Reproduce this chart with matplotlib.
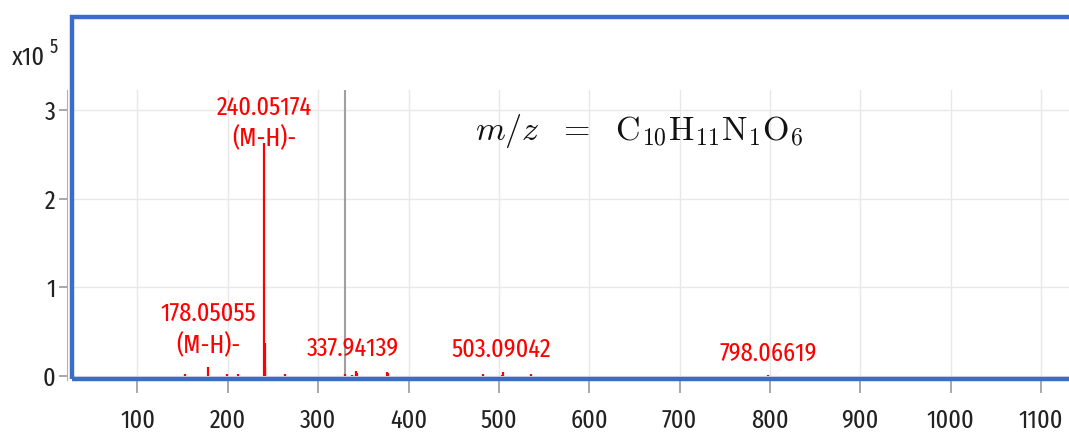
import matplotlib.pyplot as plt
from matplotlib import font_manager
from matplotlib.patches import Rectangle

# Peak list (m/z, intensity in units of 1e5 counts)
peak_mz = [153.0, 178.05055, 199.0, 211.0, 240.05174, 240.6, 241.3, 263.0,
           330.0, 337.94139, 342.0, 343.5, 376.0, 377.5, 482.0, 503.09042,
           505.0, 536.0, 798.06619]
peak_int = [0.02, 0.10, 0.02, 0.02, 2.63, 0.37, 0.10, 0.02,
            0.02, 0.01, 0.05, 0.03, 0.04, 0.03, 0.02, 0.01,
            0.04, 0.02, 0.005]

# Annotated peaks
label_mz = [240.05174, 178.05055, 337.94139, 503.09042, 798.06619]
label_text = ['240.05174\n(M-H)-', '178.05055\n(M-H)-', '337.94139',
              '503.09042', '798.06619']
label_y = [2.53, 0.20, 0.16, 0.15, 0.11]

cursor_mz = 329.7
x_ticks = [100, 200, 300, 400, 500, 600, 700, 800, 900, 1000, 1100]
y_ticks = [0, 1, 2, 3]

# pick the narrowest regular sans face on the system
rank = {'ultra-condensed': 0, 'extra-condensed': 1, 'condensed': 2, 'semi-condensed': 3}
skip = ('bold', 'italic', 'oblique', 'light', 'medium', 'black', 'thin', 'mono', 'serif')
best, best_rank = None, 99
for f in font_manager.fontManager.ttflist:
    tag = (f.name + ' ' + f.fname).lower().replace('sans-serif', '')
    if any(s in tag for s in skip):
        continue
    r = rank.get(f.stretch, 99)
    if 'extracondensed' in tag.replace(' ', '').replace('-', ''):
        r = min(r, 1)
    elif 'narrow' in tag or 'condensed' in tag:
        r = min(r, 2)
    if r < best_rank:
        best, best_rank = f, r

if best is not None:
    narrow = font_manager.FontProperties(fname=best.fname)
else:
    narrow = font_manager.FontProperties(family='Liberation Sans')
condensed_level = best_rank


def nfont(size):
    fp = narrow.copy()
    fp.set_size(size)
    return fp


lab_size = 19 if condensed_level <= 1 else 16

W, H = 1069, 434
fig = plt.figure(figsize=(W / 100, H / 100), dpi=100)
ax = fig.add_axes([71 / W, (H - 380) / H, 1 - 71 / W, (380 - 90) / H])

ax.set_xlim(26.4, 1131)
ax.set_ylim(-0.049, 3.228)

# spectrum
ax.vlines(peak_mz, 0, peak_int, color='#ff0000', lw=1.6, zorder=3)
ax.vlines(cursor_mz, 0, 3.228, color='#a0a0a0', lw=1.5, zorder=2)

for mz, txt, y in zip(label_mz, label_text, label_y):
    ax.text(mz, y, txt, color='#ff0000', ha='center', va='bottom',
            fontproperties=nfont(lab_size), linespacing=1.3, zorder=4)

ax.text(0.405, 0.86, r'$m/z\ \ =\ \ \mathrm{C_{10}H_{11}N_1O_6}$', transform=ax.transAxes,
        fontsize=24.5, math_fontfamily='cm', ha='left', va='center', color='#111111')

ax.set_xticks(x_ticks)
ax.set_yticks(y_ticks)
ax.grid(True, color='#e8e8e8', lw=1)
ax.set_axisbelow(True)
for s in ['top', 'right', 'bottom']:
    ax.spines[s].set_visible(False)
ax.spines['left'].set_position(('outward', 3))
ax.spines['left'].set_color('#b0b0b0')
ax.tick_params(axis='x', length=9, width=1.2, color='#999999', pad=11,
               labelcolor='#222222')
ax.tick_params(axis='y', length=6, width=1.2, color='#999999', pad=2,
               labelcolor='#222222')
for lab in ax.get_xticklabels() + ax.get_yticklabels():
    lab.set_fontproperties(nfont(lab_size))

# scale factor at the top of the y axis
fig.text(12 / W, 1 - 58 / H, 'x10', fontproperties=nfont(lab_size), color='#222222',
         ha='left', va='center')
fig.text(50 / W, 1 - 47 / H, '5', fontproperties=nfont(14), color='#222222',
         ha='left', va='center')

# blue panel frame
frame = Rectangle((72 / W, (H - 379) / H), 1.05, (379 - 17) / H,
                  transform=fig.transFigure, fill=False, ec='#3a6cc8', lw=3.2,
                  zorder=10, clip_on=False)
fig.add_artist(frame)

fig.savefig('out.png', dpi=100)
